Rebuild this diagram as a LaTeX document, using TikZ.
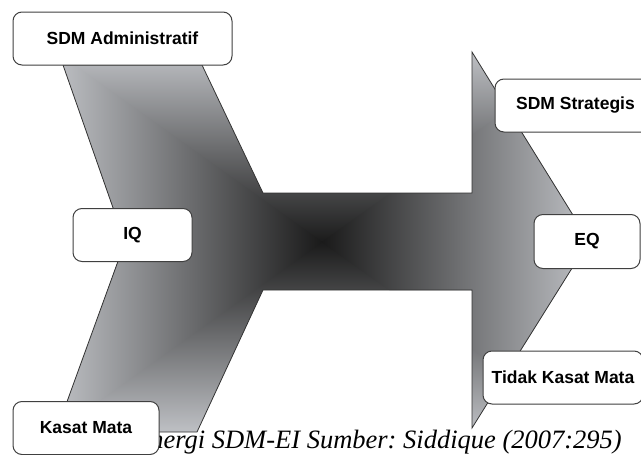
\documentclass[tikz,border=0pt]{standalone}
\usepackage{fontspec}
\setmainfont{Liberation Serif}
\setsansfont{Liberation Sans}
\definecolor{edgegray}{HTML}{BEC0C4}
\definecolor{coregray}{HTML}{1A1A1A}
\frenchspacing
\begin{document}
\begin{tikzpicture}
[x=1pt,y=-1pt,%
  line join=miter,%
  label box/.style={shape=rectangle,draw=black!75,line width=1pt,fill=white,%
    rounded corners=9pt,inner sep=0pt,minimum height=53pt,%
    font=\sffamily\bfseries\fontsize{17.5}{20}\selectfont}]
\useasboundingbox (0,0) rectangle (641,455);
% corners of the arrow
\coordinate (top left) at (63,65);
\coordinate (top right) at (202,65);
\coordinate (shaft top) at (263,193);
\coordinate (head top in) at (472,193);
\coordinate (head top) at (472,52);
\coordinate (tip) at (589,241);
\coordinate (head bot) at (472,428);
\coordinate (head bot in) at (472,290);
\coordinate (shaft bot) at (263,290);
\coordinate (bot right) at (197,432);
\coordinate (bot left) at (56,432);
\coordinate (notch) at (125,242);
% frame of the shading
\coordinate (mid) at (322,242);
\coordinate (nw) at (56,52);
\coordinate (ne) at (589,52);
\coordinate (se) at (589,432);
\coordinate (sw) at (56,432);
\begin{scope}
  \clip (top left) -- (top right) -- (shaft top) -- (head top in) -- (head top)
    -- (tip) -- (head bot) -- (head bot in) -- (shaft bot) -- (bot right)
    -- (bot left) -- (notch) -- cycle;
  \shade[top color=edgegray,bottom color=coregray] (nw) rectangle (589,243);
  \shade[top color=coregray,bottom color=edgegray] (56,241) rectangle (se);
  \shade[left color=edgegray,right color=coregray] (mid) -- (nw) -- (sw) -- cycle;
  \shade[left color=coregray,right color=edgegray] (mid) -- (ne) -- (se) -- cycle;
\end{scope}
\draw[black!80,line width=0.8pt] (top left) -- (top right) -- (shaft top)
  -- (head top in) -- (head top) -- (tip) -- (head bot) -- (head bot in)
  -- (shaft bot) -- (bot right) -- (bot left) -- (notch) -- cycle;
% caption, partly under the boxes
\node[anchor=base east,inner sep=0pt,font=\itshape\fontsize{26.5}{30}\selectfont]
  (caption) at (622,448) {Sinergi SDM-EI Sumber: Siddique (2007:295)};
% the six labels
\node[label box,minimum width=219pt] (admin) at (122.5,38.5) {SDM Administratif};
\node[label box,minimum width=119pt] (iq) at (132.5,235) {IQ};
\node[label box,minimum width=146pt] (kasat) at (86,428) {Kasat Mata};
\node[label box,minimum width=161pt] (strategis) at (575.5,105.5) {SDM Strategis};
\node[label box,minimum width=106pt,minimum height=54pt] (eq) at (587,241.5) {EQ};
\node[label box,minimum width=160pt] (tidak) at (563,377.5) {Tidak Kasat Mata};
\end{tikzpicture}
\end{document}
